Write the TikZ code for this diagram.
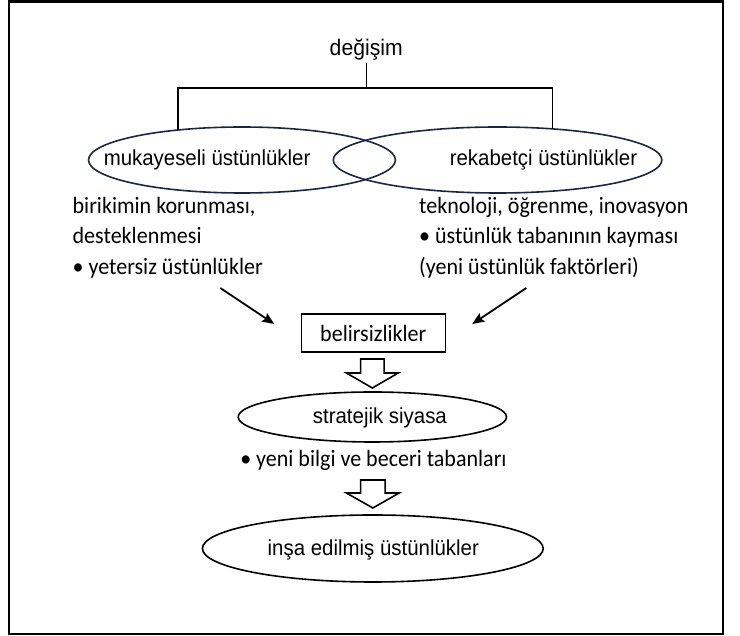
\documentclass[tikz,border=0pt]{standalone}
\usepackage{fontspec}
\setmainfont{Liberation Sans}
\newfontfamily\calfont{Carlito}
\usetikzlibrary{shapes.geometric,arrows.meta,calc}
\definecolor{navy}{rgb}{0.10,0.15,0.27}
\begin{document}
\begin{tikzpicture}[x=1pt,y=-1pt,xscale=0.9415,
  every node/.style={transform shape},
  ell/.style={draw=#1,ellipse,line width=1.6pt,inner sep=0pt,outer sep=0pt},
  ell/.default=black,
  arialtext/.style={font=\fontsize{21.7}{25}\selectfont,inner sep=0pt},
  caltext/.style={font=\calfont\fontsize{23.4}{30.5}\selectfont,inner sep=0pt,align=left},
  conn/.style={line width=1.4pt},
  thinarrow/.style={line width=1.8pt,-{Stealth[length=12pt,width=10pt,inset=2pt]}},
  blockarrow/.style={draw,line width=1.6pt,fill=white,line join=miter}
]
\useasboundingbox (0,0) rectangle (786,636);
% frame
\draw[line width=2.5pt] (9.5,1.5) rectangle (768,634);

% top title
\node[arialtext,font=\fontsize{22.5}{26}\selectfont] (deg) at (389,50) {değişim};

% ellipses
\node[ell=navy,minimum width=326pt,minimum height=66pt] (L) at (257,160) {};
\node[ell=navy,minimum width=349pt,minimum height=66pt] (R) at (528.5,160) {};
\node[arialtext,anchor=west] (Lt) at (110,160) {mukayeseli üstünlükler};
\node[arialtext,anchor=east] (Rt) at (677,160) {rekabetçi üstünlükler};

% bracket
\coordinate (stemtop) at (389,63);
\coordinate (stembot) at (389,88);
\coordinate (bl) at (189,88);
\coordinate (br) at (587,88);
\draw[conn] (stemtop) -- (stembot);
\draw[conn] (bl |- L.156.2) -- (bl) -- (br) -- (br |- R.28);

% text blocks
\node[caltext,anchor=north west] (Lb) at (77,197) {birikimin korunması,\\desteklenmesi\\• yetersiz üstünlükler};
\node[caltext,anchor=north west] (Rb) at (445,197) {teknoloji, öğrenme, inovasyon\\• üstünlük tabanının kayması\\(yeni üstünlük faktörleri)};

% uncertainty box
\node[draw,line width=1.3pt,minimum width=153pt,minimum height=38pt,inner sep=0pt,
      font=\calfont\fontsize{23.4}{28}\selectfont] (B) at (396.5,333) {belirsizlikler};

\coordinate (la) at (234,288);
\coordinate (ra) at (559,288);
\coordinate (lt) at ($(B.west)+(-28,-9)$);
\coordinate (rt) at ($(B.east)+(28,-9)$);
\draw[thinarrow] (la) -- (lt);
\draw[thinarrow] (ra) -- (rt);

% block arrow 1
\coordinate (h1) at (395.5,359);
\draw[blockarrow] (h1) ++(-12.5,0) -- ++(0,14) -- ++(-15,0) -- ++(27.5,15) -- ++(27.5,-15) -- ++(-15,0) -- ++(0,-14) -- cycle;

% strategic policy
\node[ell,minimum width=285pt,minimum height=50pt] (S) at (395.5,417) {};
\node[arialtext] (St) at (403.5,418) {stratejik siyasa};

\node[caltext,anchor=west] (Nb) at (255,460) {• yeni bilgi ve beceri tabanları};

% block arrow 2
\coordinate (h2) at (396,480);
\draw[blockarrow] (h2) ++(-13,0) -- ++(0,13) -- ++(-15,0) -- ++(28,15) -- ++(28,-15) -- ++(-15,0) -- ++(0,-13) -- cycle;

% constructed advantages
\node[ell,minimum width=362pt,minimum height=67pt] (I) at (396,548.5) {};
\node[arialtext] (It) at (396.5,550) {inşa edilmiş üstünlükler};
\end{tikzpicture}
\end{document}
